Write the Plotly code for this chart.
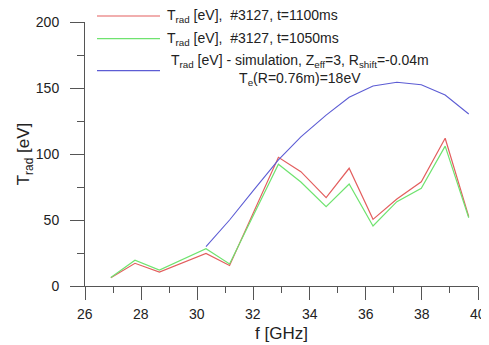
import plotly.graph_objects as go

# Data
f_meas = [26.92, 27.78, 28.65, 30.31, 31.15, 32.89, 33.69, 34.59, 35.41, 36.26, 37.11, 37.98, 38.83, 39.67]
t_1100 = [6.3, 17.2, 10.6, 24.7, 15.6, 97.5, 86.6, 66.9, 89.2, 50.5, 65.9, 79.0, 111.9, 52.5]
t_1050 = [6.5, 19.5, 12.1, 28.3, 16.7, 92.2, 78.8, 60.1, 77.3, 45.5, 63.9, 74.0, 106.0, 51.7]
f_sim = [30.31, 31.15, 32.0, 32.89, 33.69, 34.59, 35.41, 36.26, 37.11, 37.98, 38.83, 39.67]
t_sim = [29.8, 50.0, 72.5, 95.5, 113.0, 129.5, 143.0, 151.5, 154.3, 152.5, 144.7, 130.3]

x_ticks = [26, 28, 30, 32, 34, 36, 38, 40]
y_ticks = [0, 50, 100, 150, 200]

RED = "#e35e5e"
GREEN = "#6fe36f"
BLUE = "#5c5cd4"
FONT = "Liberation Sans, Arial, sans-serif"

fig = go.Figure()
fig.add_trace(go.Scatter(x=f_meas, y=t_1100, mode="lines", line=dict(color=RED, width=1.2)))
fig.add_trace(go.Scatter(x=f_meas, y=t_1050, mode="lines", line=dict(color=GREEN, width=1.2)))
fig.add_trace(go.Scatter(x=f_sim, y=t_sim, mode="lines", line=dict(color=BLUE, width=1.1)))

# page body has an 8px margin, so the figure is sized to fit the rest of the window
OFF = 8
W, H = 489 - OFF, 345 - OFF
ml, mr, mt, mb = 77, 11, 14, 59
pw, ph = W - ml - mr, H - mt - mb

def px_x(p):  # screen px -> paper
    return (p - OFF - ml) / pw

def px_y(p):
    return (H - mb - (p - OFF)) / ph

shapes = []
for py, col in [(16, RED), (38.7, GREEN), (70.7, BLUE)]:
    shapes.append(dict(type="line", xref="paper", yref="paper",
                       x0=px_x(97), x1=px_x(160), y0=px_y(py), y1=px_y(py),
                       line=dict(color=col, width=1.2)))

annotations = [
    dict(text="T<sub>rad</sub> [eV],  #3127, t=1100ms", x=px_x(165), y=px_y(16),
         xanchor="left", yanchor="middle", xref="paper"),
    dict(text="T<sub>rad</sub> [eV],  #3127, t=1050ms", x=px_x(165), y=px_y(38.7),
         xanchor="left", yanchor="middle", xref="paper"),
    dict(text="T<sub>rad</sub> [eV] - simulation, Z<sub>eff</sub>=3, R<sub>shift</sub>=-0.04m<br>T<sub>e</sub>(R=0.76m)=18eV",
         x=px_x(300), y=px_y(70), xanchor="center", yanchor="middle", align="center", xref="paper"),
]
# x tick labels, placed at the axis tick values
for v in x_ticks:
    annotations.append(dict(text=str(v), x=v, xref="x", y=px_y(314), xanchor="center",
                            yanchor="middle"))
for a in annotations:
    a.update(yref="paper", showarrow=False,
             font=dict(family=FONT, size=14, color="#222"))

fig.update_layout(
    width=W, height=H,
    margin=dict(l=ml, r=mr, t=mt, b=mb, autoexpand=False),
    paper_bgcolor="white", plot_bgcolor="white",
    showlegend=False,
    font=dict(family=FONT, size=14, color="#222"),
    shapes=shapes, annotations=annotations,
    xaxis=dict(range=[26, 40], tickvals=x_ticks, showticklabels=False, automargin=False,
               showgrid=False, zeroline=False, showline=True, linecolor="#555", linewidth=1,
               ticks="outside", ticklen=13, tickcolor="#555",
               minor=dict(dtick=1, tick0=26, ticks="outside", ticklen=6, tickcolor="#555", showgrid=False),
               title=dict(text="f [GHz]", font=dict(size=17, color="#222"), standoff=28)),
    yaxis=dict(range=[0, 200], tickvals=y_ticks, ticktext=[str(v) for v in y_ticks], automargin=False,
               showgrid=False, zeroline=False, showline=True, linecolor="#555", linewidth=1,
               ticks="outside", ticklen=14, tickcolor="#555", ticklabelstandoff=8,
               minor=dict(dtick=25, tick0=0, ticks="outside", ticklen=7, tickcolor="#555", showgrid=False),
               tickfont=dict(size=14, color="#222"),
               title=dict(text="T<sub>rad</sub> [eV]", font=dict(size=17, color="#222"), standoff=1)),
)

fig.write_html("out.html")
